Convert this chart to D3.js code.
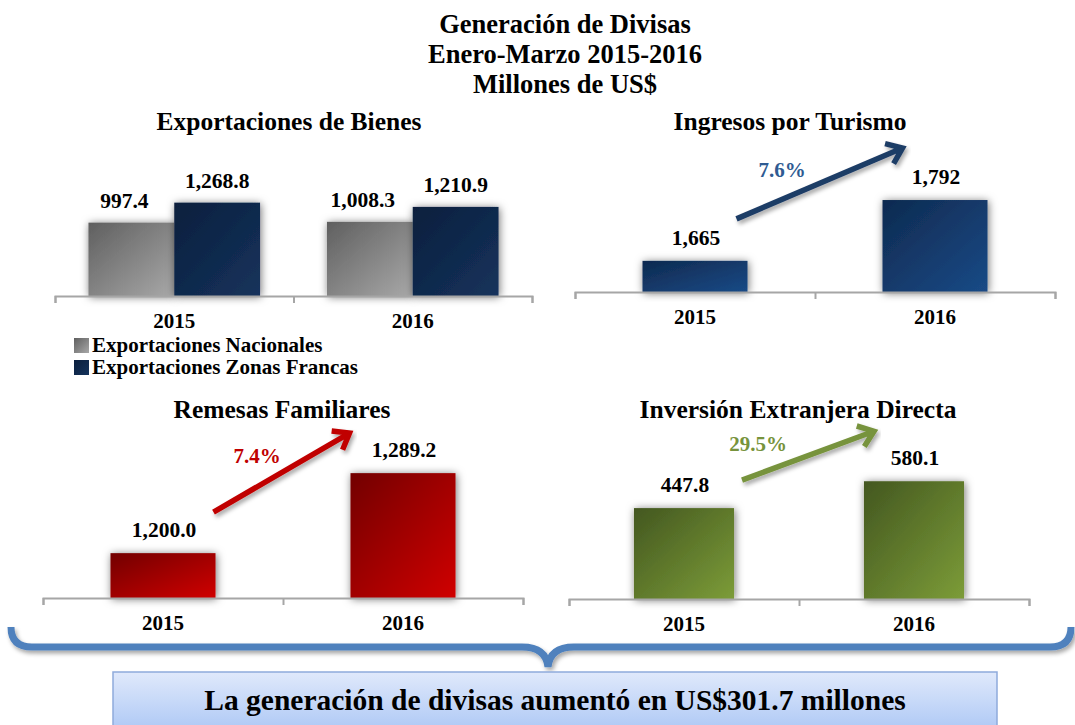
<!DOCTYPE html>
<html>
<head>
<meta charset="utf-8">
<script src="https://cdn.jsdelivr.net/npm/d3@7"></script>
<style>
  html, body { margin: 0; padding: 0; background: #fff; }
  svg { display: block; }
  text { font-family: "Liberation Serif", "Times New Roman", serif; font-weight: bold; }
</style>
</head>
<body>
<div id="container"></div>
<script>
const width = 1075,
  height = 725;

// data
const years = ["2015", "2016"];
const exportSeries = ["Exportaciones Nacionales", "Exportaciones Zonas Francas"];
const exportNacionales = [997.4, 1008.3];
const exportZonasFrancas = [1268.8, 1210.9];
const turismo = [1665, 1792];
const remesas = [1200.0, 1289.2];
const inversion = [447.8, 580.1];
const growthTurismo = "7.6%";
const growthRemesas = "7.4%";
const growthInversion = "29.5%";
const titleLines = ["Generación de Divisas", "Enero-Marzo 2015-2016", "Millones de US$"];
const summaryText = "La generación de divisas aumentó en US$301.7 millones";

const fmt1 = d3.format(",.1f");
const fmt0 = d3.format(",");

const svg = d3.select("#container")
  .append("svg")
  .attr("width", width)
  .attr("height", height);

const defs = svg.append("defs");

function gradient(id, c0, c1) {
  const g = defs.append("linearGradient")
    .attr("id", id)
    .attr("x1", 0).attr("y1", 0)
    .attr("x2", 1).attr("y2", 1);
  g.append("stop").attr("offset", "0%").attr("stop-color", c0);
  g.append("stop").attr("offset", "100%").attr("stop-color", c1);
}
gradient("gGray", "#5f5f5f", "#a8a8a8");
gradient("gNavy", "#0b1f3d", "#15335c");
gradient("gBlue", "#0e2a50", "#1a4a86");
gradient("gRed", "#720000", "#d00000");
gradient("gGreen", "#435720", "#7c9c38");

const boxGrad = defs.append("linearGradient")
  .attr("id", "gBox").attr("x1", 0).attr("y1", 0).attr("x2", 0).attr("y2", 1);
boxGrad.append("stop").attr("offset", "0%").attr("stop-color", "#e0e9fb");
boxGrad.append("stop").attr("offset", "100%").attr("stop-color", "#a4c2f4");

const shadow = defs.append("filter")
  .attr("id", "shadow")
  .attr("x", "-30%").attr("y", "-30%")
  .attr("width", "160%").attr("height", "160%");
shadow.append("feDropShadow")
  .attr("dx", 1).attr("dy", 1)
  .attr("stdDeviation", 4)
  .attr("flood-color", "#000")
  .attr("flood-opacity", 0.55);

const braceShadow = defs.append("filter")
  .attr("id", "braceShadow")
  .attr("x", "-5%").attr("y", "-50%")
  .attr("width", "110%").attr("height", "200%");
braceShadow.append("feDropShadow")
  .attr("dx", 2).attr("dy", 3)
  .attr("stdDeviation", 2)
  .attr("flood-color", "#000")
  .attr("flood-opacity", 0.35);

// main title
svg.append("g")
  .selectAll("text")
  .data(titleLines)
  .join("text")
  .attr("x", 565)
  .attr("y", (d, i) => 33 + i * 30)
  .attr("text-anchor", "middle")
  .attr("font-size", 26.5)
  .text(d => d);

// axis with tick marks at category boundaries, labels at the middle of each category
function drawAxis(g, x, baseline) {
  const [x0, x1] = x.range();
  const bounds = d3.scaleLinear().domain([0, x.domain().length]).range([x0, x1]);
  g.append("g")
    .attr("transform", `translate(0,${baseline})`)
    .call(d3.axisBottom(bounds).tickValues(d3.range(x.domain().length + 1)).tickSize(7).tickSizeOuter(7).tickFormat(""))
    .call(a => a.selectAll("path, line").attr("stroke", "#a6a6a6").attr("stroke-width", 2));

  g.append("g")
    .selectAll("text.cat")
    .data(x.domain())
    .join("text")
    .attr("class", "cat")
    .attr("x", d => x(d) + x.bandwidth() / 2)
    .attr("y", baseline + 32)
    .attr("text-anchor", "middle")
    .attr("font-size", 21)
    .text(d => d);
}

function drawArrow(g, from, to, color) {
  const ang = Math.atan2(to[1] - from[1], to[0] - from[0]);
  const len = 18, spread = 0.65;
  const p1 = [to[0] - len * Math.cos(ang - spread), to[1] - len * Math.sin(ang - spread)];
  const p2 = [to[0] - len * Math.cos(ang + spread), to[1] - len * Math.sin(ang + spread)];
  g.append("path")
    .attr("d", `M${from[0]},${from[1]}L${to[0]},${to[1]}M${p1[0]},${p1[1]}L${to[0]},${to[1]}L${p2[0]},${p2[1]}`)
    .attr("fill", "none")
    .attr("stroke", color)
    .attr("stroke-width", 5.5)
    .attr("stroke-linejoin", "miter")
    .attr("filter", "url(#braceShadow)");
}

// ---------- Exportaciones de Bienes (grouped) ----------
{
  const g = svg.append("g");
  const baseline = 296;
  const x0 = d3.scaleBand().domain(years).range([55, 532]).padding(0);
  const x1 = d3.scaleBand().domain(exportSeries).range([0, x0.bandwidth()]).paddingInner(0).paddingOuter(0.39);
  const y = d3.scaleLinear().domain([0, 1400]).range([baseline, baseline - 1400 * 0.07357]);
  const color = d3.scaleOrdinal().domain(exportSeries).range(["url(#gGray)", "url(#gNavy)"]);

  const rows = years.flatMap((yr, i) => [
    {year: yr, series: exportSeries[0], value: exportNacionales[i], dx: -7},
    {year: yr, series: exportSeries[1], value: exportZonasFrancas[i], dx: 0}
  ]);

  g.append("text")
    .attr("x", 289).attr("y", 130)
    .attr("text-anchor", "middle")
    .attr("font-size", 25.5)
    .text("Exportaciones de Bienes");

  g.selectAll("rect.bar")
    .data(rows)
    .join("rect")
    .attr("class", "bar")
    .attr("x", d => x0(d.year) + x1(d.series))
    .attr("y", d => y(d.value))
    .attr("width", x1.bandwidth())
    .attr("height", d => baseline - y(d.value))
    .attr("fill", d => color(d.series))
    .attr("filter", "url(#shadow)");

  g.selectAll("text.val")
    .data(rows)
    .join("text")
    .attr("class", "val")
    .attr("x", d => x0(d.year) + x1(d.series) + x1.bandwidth() / 2 + d.dx)
    .attr("y", d => y(d.value) - 15)
    .attr("text-anchor", "middle")
    .attr("font-size", 21.5)
    .text(d => fmt1(d.value));

  drawAxis(g, x0, baseline);

  const legend = g.selectAll("g.legend")
    .data(exportSeries)
    .join("g")
    .attr("class", "legend")
    .attr("transform", (d, i) => `translate(74,${338 + i * 22})`);
  legend.append("rect")
    .attr("width", 15).attr("height", 15)
    .attr("fill", d => color(d));
  legend.append("text")
    .attr("x", 18).attr("y", 14)
    .attr("font-size", 21)
    .text(d => d);
}

// ---------- single series panels ----------
function drawSingle(opts) {
  const g = svg.append("g");
  const x = d3.scaleBand().domain(years).range(opts.xRange).paddingInner(opts.pad).paddingOuter(opts.pad / 2);
  const y = d3.scaleLinear().domain(opts.yDomain).range([opts.baseline, opts.baseline - (opts.yDomain[1] - opts.yDomain[0]) * opts.k]);
  const rows = years.map((yr, i) => ({year: yr, value: opts.values[i]}));

  g.append("text")
    .attr("x", opts.titleX).attr("y", opts.titleY)
    .attr("text-anchor", "middle")
    .attr("font-size", 25.5)
    .text(opts.title);

  g.selectAll("rect.bar")
    .data(rows)
    .join("rect")
    .attr("class", "bar")
    .attr("x", d => x(d.year))
    .attr("y", d => y(d.value))
    .attr("width", x.bandwidth())
    .attr("height", d => opts.baseline - y(d.value))
    .attr("fill", opts.fill)
    .attr("filter", "url(#shadow)");

  g.selectAll("text.val")
    .data(rows)
    .join("text")
    .attr("class", "val")
    .attr("x", d => x(d.year) + x.bandwidth() / 2 + 1)
    .attr("y", d => y(d.value) - 16)
    .attr("text-anchor", "middle")
    .attr("font-size", 21.5)
    .text(d => opts.format(d.value));

  drawAxis(g, x, opts.baseline);

  // growth arrow from the first bar towards the second one
  const a = rows[0], b = rows[1];
  const from = [x(a.year) + x.bandwidth() + opts.arrow[0], y(a.value) + opts.arrow[1]];
  const to = [x(b.year) + opts.arrow[2], y(b.value) + opts.arrow[3]];
  drawArrow(g, from, to, opts.arrowColor);

  g.append("text")
    .attr("x", opts.growthPos[0]).attr("y", opts.growthPos[1])
    .attr("text-anchor", "middle")
    .attr("font-size", 21)
    .attr("fill", opts.growthColor)
    .text(opts.growth);
}

drawSingle({
  title: "Ingresos por Turismo", titleX: 790, titleY: 130,
  values: turismo, format: fmt0,
  xRange: [575, 1055], pad: 0.5625, baseline: 292,
  yDomain: [1600, 1800], k: 0.479,
  fill: "url(#gBlue)",
  arrow: [-11, -42, 20, -52], arrowColor: "#1f3c66",
  growth: growthTurismo, growthPos: [782, 177], growthColor: "#2f5b92"
});

drawSingle({
  title: "Remesas Familiares", titleX: 282, titleY: 418,
  values: remesas, format: fmt1,
  xRange: [43, 523], pad: 0.5625, baseline: 598,
  yDomain: [1150, 1300], k: 0.897,
  fill: "url(#gRed)",
  arrow: [-2, -41, -1, -40], arrowColor: "#c00000",
  growth: growthRemesas, growthPos: [257, 463], growthColor: "#c00000"
});

drawSingle({
  title: "Inversión Extranjera Directa", titleX: 798, titleY: 418,
  values: inversion, format: fmt1,
  xRange: [569, 1029], pad: 0.565, baseline: 599,
  yDomain: [0, 600], k: 0.203,
  fill: "url(#gGreen)",
  arrow: [8, -28, 10, -50], arrowColor: "#77933c",
  growth: growthInversion, growthPos: [758, 451], growthColor: "#77933c"
});

// ---------- brace and summary box ----------
svg.append("path")
  .attr("d", "M11,627 Q11,647 32,647 L522,647 Q546,647 548,667 Q550,647 574,647 L1050,647 Q1071,647 1071,627")
  .attr("fill", "none")
  .attr("stroke", "#4f81bd")
  .attr("stroke-width", 7)
  .attr("filter", "url(#braceShadow)");

svg.append("rect")
  .attr("x", 113).attr("y", 672)
  .attr("width", 884).attr("height", 70)
  .attr("fill", "url(#gBox)")
  .attr("stroke", "#8eaadb")
  .attr("stroke-width", 1.5);

svg.append("text")
  .attr("x", 555).attr("y", 710)
  .attr("text-anchor", "middle")
  .attr("font-size", 29.5)
  .text(summaryText);
</script>
</body>
</html>
